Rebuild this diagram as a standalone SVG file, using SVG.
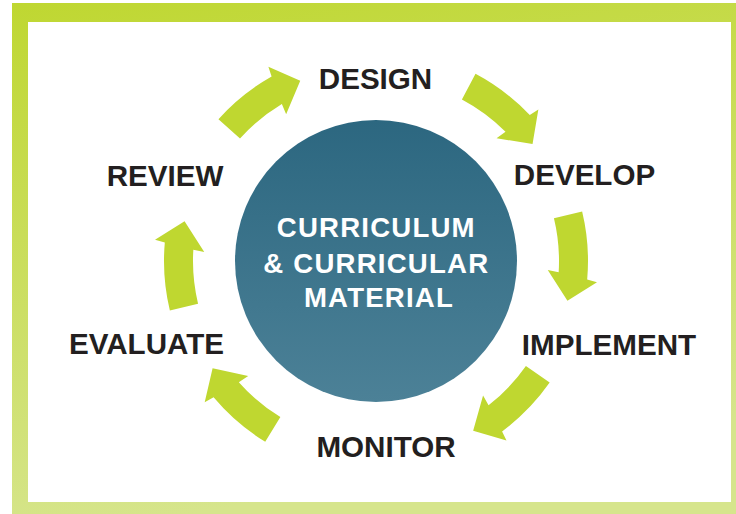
<svg xmlns="http://www.w3.org/2000/svg" xmlns:xlink="http://www.w3.org/1999/xlink" width="736" height="514" viewBox="0 0 736 514">
  <defs>
    <linearGradient id="frameFill" x1="0" y1="0" x2="0.25" y2="1">
      <stop offset="0" stop-color="#BFD731"/>
      <stop offset="1" stop-color="#D6E58C"/>
    </linearGradient>
    <linearGradient id="hubFill" x1="0" y1="0" x2="0" y2="1">
      <stop offset="0" stop-color="#2C6780"/>
      <stop offset="1" stop-color="#4C8197"/>
    </linearGradient>
    <!-- curved ring arrow, tail at the top of the ring, pointing clockwise; centred on (0,0) -->
    <path id="ringArrow" d="M0,-212 A212,212 0 0 1 67.26,-201.04 L72.28,-209.9 L83.24,-176.89 L48.85,-164.91 L53.65,-174.97 A183,183 0 0 0 0,-183 Z"/>
  </defs>
  <style>
    .arrow { fill: #BFD730; }
    .step { font-family: "Liberation Sans", Arial, sans-serif; font-weight: bold; font-size: 29.6px; fill: #231F20; text-anchor: middle; }
    .hub-text { font-family: "Liberation Sans", Arial, sans-serif; font-weight: bold; font-size: 27.6px; fill: #FFFFFF; text-anchor: middle; letter-spacing: 1.2px; }
  </style>

  <!-- frame -->
  <rect x="0" y="0" width="736" height="514" fill="#FFFFFF"/>
  <rect x="12" y="3" width="724" height="511" fill="url(#frameFill)"/>
  <rect x="28" y="22" width="703" height="480" fill="#FFFFFF"/>

  <!-- cycle arrows -->
  <g id="connectors" class="arrow">
    <use xlink:href="#ringArrow" transform="translate(376 261) rotate(-48)"/>
    <use xlink:href="#ringArrow" transform="translate(376 261) rotate(28)"/>
    <use xlink:href="#ringArrow" transform="translate(376 261) rotate(76.5)"/>
    <use xlink:href="#ringArrow" transform="translate(376 261) rotate(125)"/>
    <use xlink:href="#ringArrow" transform="translate(376 261) rotate(211.5)"/>
    <use xlink:href="#ringArrow" transform="translate(376 261) rotate(256.5)"/>
  </g>

  <!-- central hub -->
  <g id="hub">
    <circle cx="376" cy="261" r="141" fill="url(#hubFill)"/>
    <text class="hub-text" x="376.3" y="237">CURRICULUM</text>
    <text class="hub-text" x="376.3" y="273">&amp; CURRICULAR</text>
    <text class="hub-text" x="379" y="307">MATERIAL</text>
  </g>

  <!-- stages -->
  <g id="design"><text class="step" x="375.5" y="89">DESIGN</text></g>
  <g id="develop"><text class="step" x="584.5" y="185">DEVELOP</text></g>
  <g id="implement"><text class="step" x="609" y="355">IMPLEMENT</text></g>
  <g id="monitor"><text class="step" x="386" y="457">MONITOR</text></g>
  <g id="evaluate"><text class="step" x="146.5" y="354">EVALUATE</text></g>
  <g id="review"><text class="step" x="165" y="186">REVIEW</text></g>
</svg>
